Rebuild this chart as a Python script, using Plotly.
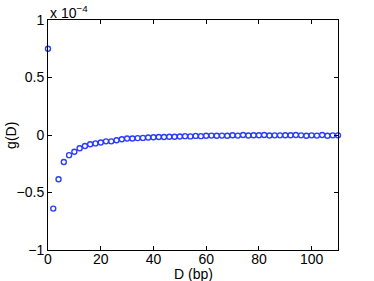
import plotly.graph_objects as go

# D values (bp)
D = list(range(0, 112, 2))
# g(D) in units of 1e-4
g_scaled = [0.75, -0.64, -0.385, -0.235, -0.175, -0.145, -0.115, -0.095, -0.08, -0.073,
            -0.065, -0.055, -0.055, -0.045, -0.037, -0.03, -0.03, -0.027, -0.025, -0.022,
            -0.02, -0.018, -0.017, -0.015, -0.015, -0.013, -0.01, -0.012, -0.008, -0.01,
            -0.007, -0.005, -0.007, -0.005, -0.006, -0.002, -0.005, 0.0, -0.004, -0.002,
            -0.002, 0.0, -0.004, -0.003, -0.003, -0.002, -0.002, 0.0, -0.003, -0.006,
            -0.003, -0.005, 0.0, -0.007, -0.003, -0.003]
x_ticks = [0, 20, 40, 60, 80, 100]
y_ticks = [-1, -0.5, 0, 0.5, 1]
y_tick_labels = ["\u22121", "\u22120.5", "0", "0.5", "1"]

font = dict(family="Liberation Sans, Arial, sans-serif", size=14, color="black")

fig = go.Figure()
fig.add_trace(go.Scatter(
    x=D, y=g_scaled, mode="markers",
    marker=dict(symbol="circle-open", size=5, color="#2a3cff", line=dict(width=1.4, color="#2a3cff")),
    showlegend=False, cliponaxis=False,
))

axis_common = dict(showgrid=False, zeroline=False, showline=True, linecolor="black", linewidth=1,
                   mirror="allticks", ticks="inside", ticklen=4, tickcolor="black", tickfont=font,
                   automargin=False)

fig.update_layout(
    width=374, height=281,
    margin=dict(l=48, r=36, t=20, b=31),
    paper_bgcolor="white", plot_bgcolor="white",
    font=font,
    xaxis=dict(range=[0, 110], tickvals=x_ticks, ticklabelstandoff=-4, **axis_common),
    yaxis=dict(range=[-1, 1], tickvals=y_ticks, ticktext=y_tick_labels, ticklabelstandoff=0,
               **axis_common),
    annotations=[
        dict(text="x 10<sup>\u22124</sup>", x=0, y=1, xref="paper", yref="paper",
             xanchor="left", yanchor="bottom", showarrow=False, font=font, yshift=-3),
        dict(text="D (bp)", x=0.5, y=-0.105, xref="paper", yref="paper", showarrow=False, font=font,
             xanchor="center", yanchor="middle"),
        dict(text="g(D)", x=-0.128, y=0.5, xref="paper", yref="paper", showarrow=False, font=font,
             textangle=-90, xanchor="center", yanchor="middle"),
    ],
)

fig.write_html("out.html", config={"displayModeBar": False},
               post_script="document.body.style.margin='0';")
